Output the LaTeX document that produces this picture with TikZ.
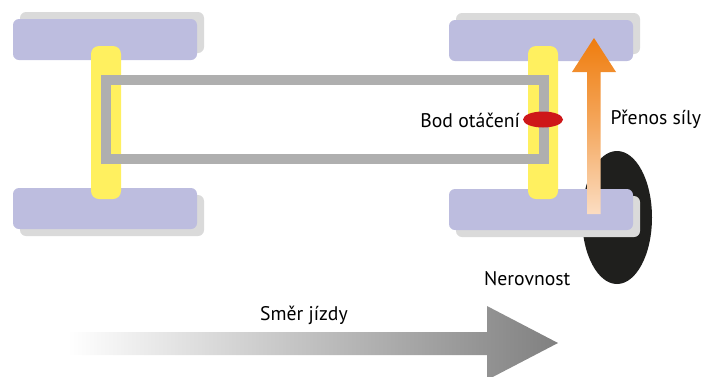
\documentclass[tikz,border=0pt]{standalone}
\usepackage{fontspec}
\setmainfont{PT Sans}
\usepackage{xcolor}
\definecolor{wheelBlue}{HTML}{BDBDDF}
\definecolor{wheelShade}{HTML}{DADADA}
\definecolor{axleYellow}{HTML}{FFF05F}
\definecolor{frameGray}{HTML}{AFAFAF}
\definecolor{pivotRed}{HTML}{CE1719}
\definecolor{bumpBlack}{HTML}{1F1F1D}
\definecolor{forceTop}{HTML}{EF7D0E}
\definecolor{forceEnd}{HTML}{FBDDC2}
\definecolor{driveEnd}{HTML}{808080}
\def\wheelW{184}
\def\wheelH{41}
\def\axleW{30}
\def\axleH{153}
\def\frameW{10}
\tikzset{lbl/.style={black,inner sep=0,font=\fontsize{19.7}{22}\selectfont}}
\tikzset{axle/.style={fill=axleYellow,rounded corners=8}}
\tikzset{frame/.style={draw=frameGray,line width=\frameW,miter limit=10}}
\newcommand{\wheel}[4]{\fill[wheelShade,rounded corners=6] (#3,#4) rectangle ++(\wheelW,\wheelH);\fill[wheelBlue,rounded corners=6] (#1,#2) rectangle ++(\wheelW,\wheelH);}
\begin{document}
\begin{tikzpicture}[x=1pt,y=-1pt]\useasboundingbox (0,0) rectangle (705,376);\clip (0,0) rectangle (705,376);
\fill[bumpBlack] (617,217.5) ellipse [x radius=35,y radius=66.5];
\wheel{13}{19}{20}{12};\wheel{13}{188}{20}{195};\wheel{449}{20}{456}{13};\wheel{449}{189}{456}{196};
\foreach\a in {91,528}{\fill[axle] (\a,46) rectangle ++(\axleW,\axleH);};
\coordinate(f1) at (106,80);\coordinate(f2) at (543.5,80);\coordinate(f3) at (543.5,159);\coordinate(f4) at (106,159);
\draw[frame](f1)--(f2)--(f3)--(f4)--cycle;
\fill[pivotRed] (543,119.5) ellipse [x radius=20,y radius=8];
\shade[top color=forceTop,bottom color=forceEnd,middle color=forceTop!55!forceEnd] (594,38)--(616,72)--(600.5,72)--(600.5,214)--(587,214)--(587,72)--(572,72)--cycle;
\shade[left color=white,right color=driveEnd] (68,332)--(487,332)--(487,306)--(558,343)--(487,380)--(487,355)--(68,355)--cycle;
\node[lbl,anchor=east] (pivotLbl) at (520,120) {Bod otáčení};
\node[lbl,anchor=west] (forceLbl) at (610.5,119) {Přenos síly};
\node[lbl,anchor=west] (bumpLbl) at (484,279) {Nerovnost};
\node[lbl,anchor=west] (driveLbl) at (260,315) {Směr jízdy};
\end{tikzpicture}
\end{document}
